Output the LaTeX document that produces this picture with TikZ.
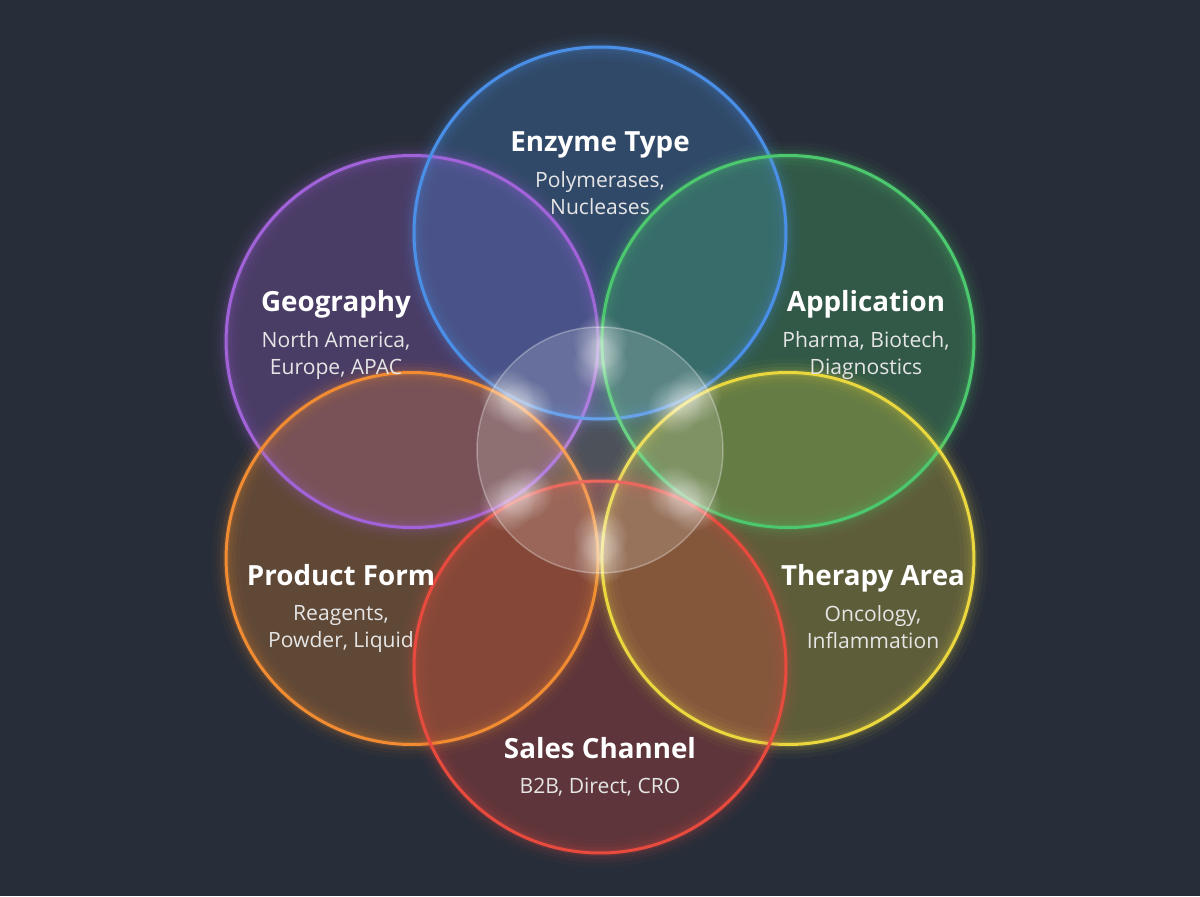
\documentclass[tikz,border=0pt]{standalone}
\usepackage{fontspec}
\setmainfont{Open Sans}
\usetikzlibrary{positioning, fadings}
\definecolor{bgdark}{HTML}{282E39}
\definecolor{cblue}{HTML}{4A8FE8}
\definecolor{cgreen}{HTML}{4CC96E}
\definecolor{cyellow}{HTML}{EAD83E}
\definecolor{cred}{HTML}{E84A3E}
\definecolor{corange}{HTML}{F28C32}
\definecolor{cpurple}{HTML}{A263DA}
\tikzfading[name=blobfade, inner color=transparent!0, outer color=transparent!100]
\tikzstyle{title} = [text=white, font=\bfseries\fontsize{15.8}{18}\selectfont, inner sep=0pt, text height=11.5pt, text depth=3pt]
\tikzstyle{sub} = [text=white!90!black, font=\fontsize{12}{15.4}\selectfont, align=center, inner sep=0pt]

\begin{document}
\begin{tikzpicture}[x=0.02cm, y=0.02cm]
  \fill[bgdark] (-600,-446) rectangle (600,450);
  % fills of the six segments
  \foreach \ang/\col in {150/cpurple, 90/cblue, 30/cgreen, -150/corange, -30/cyellow, -90/cred}
    \fill[\col, fill opacity=0.28] (\ang:217) circle (186);
  % glowing rims
  \foreach \ang/\col in {150/cpurple, 90/cblue, 30/cgreen, -150/corange, -30/cyellow, -90/cred} {
    \foreach \w/\o in {28/0.03, 19/0.05, 12/0.08, 6/0.14}
      \draw[\col, line width=\w*0.02cm, opacity=\o] (\ang:217) circle (186);
    \draw[\col, line width=3*0.02cm] (\ang:217) circle (186);
  }
  % centre
  \fill[white, fill opacity=0.17] (0,0) circle (123);
  \draw[white, opacity=0.3, line width=1.5*0.02cm] (0,0) circle (123);
  \foreach \ang in {90, 30, -30, -90, -150, 150} {
    \fill[white, fill opacity=0.45, path fading=blobfade] (\ang:86) circle (28);
    \fill[white, fill opacity=0.45, path fading=blobfade] (\ang:108) circle (28);
  }

  \node[title] (enz) at (0,306) {Enzyme Type};
  \node[sub, below=8pt of enz] (enzsub) {Polymerases,\\Nucleases};
  \node[title] (geo) at (-264,146) {Geography};
  \node[sub, below=8pt of geo] (geosub) {North America,\\Europe, APAC};
  \node[title] (app) at (266,146) {Application};
  \node[sub, below=8pt of app] (appsub) {Pharma, Biotech,\\Diagnostics};
  \node[title] (prod) at (-259,-128) {Product Form};
  \node[sub, below=8pt of prod] (prodsub) {Reagents,\\Powder, Liquid};
  \node[title] (ther) at (273,-128) {Therapy Area};
  \node[sub, below=8pt of ther] (thersub) {Oncology,\\Inflammation};
  \node[title] (sales) at (0,-301) {Sales Channel};
  \node[sub, below=8pt of sales] (salessub) {B2B, Direct, CRO};
\end{tikzpicture}
\end{document}
